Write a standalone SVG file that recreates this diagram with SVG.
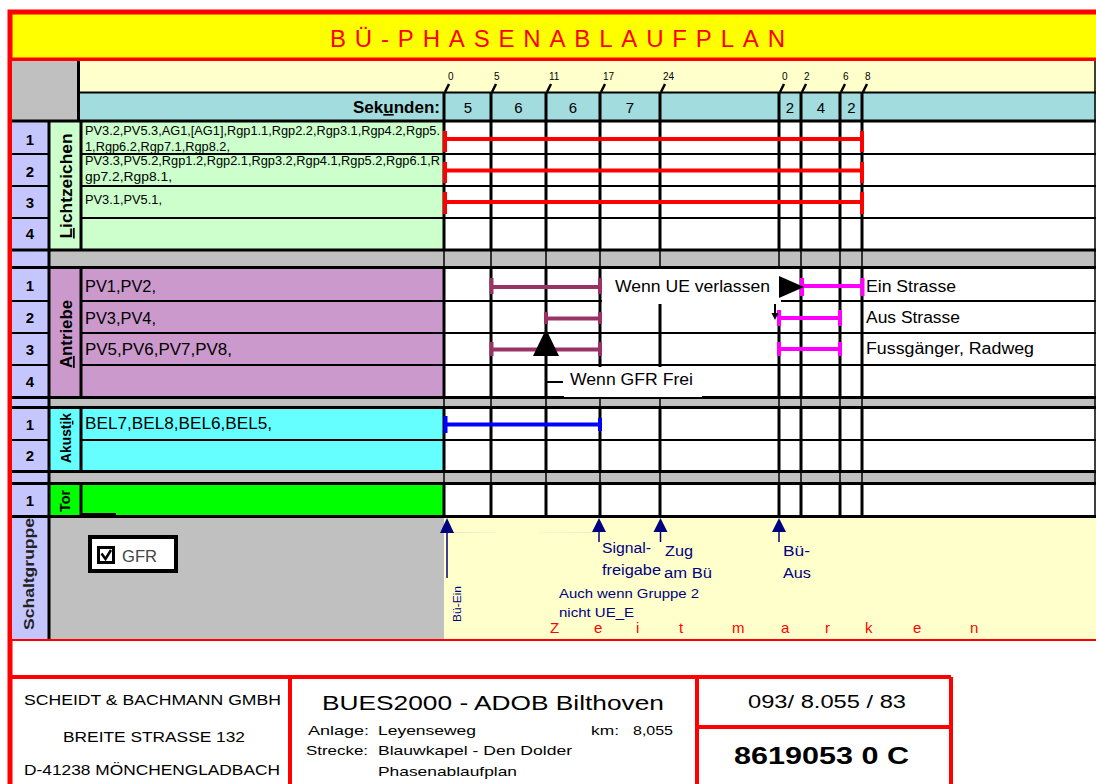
<svg xmlns="http://www.w3.org/2000/svg" width="1096" height="784" viewBox="0 0 1096 784">
<style>
text{font-family:"Liberation Sans",Arial,Helvetica,sans-serif;fill:#000}
.n{font-size:15px;font-weight:bold;text-anchor:middle}
.c{font-weight:bold;text-anchor:middle}
.s{font-size:12.5px}
.t{font-size:16px}
.k{font-size:10px}
.h{font-size:15px;text-anchor:middle}
.nv{font-size:14px;fill:#000080}
.rd{fill:#f00}
.tb{font-size:14.5px}
.u{text-decoration:underline}
.b3{stroke:#000;stroke-width:3;fill:none}
.b2{stroke:#000;stroke-width:2;fill:none}
.b1{stroke:#000;stroke-width:1.5;fill:none}
</style>
<rect width="1096" height="784" fill="#fff"/>

<g id="frame">
<rect x="12" y="14" width="1084" height="44" fill="#ff0"/>
<path d="M10,784 V12 H1096" stroke="#f00" stroke-width="5" fill="none"/>
<path d="M10,59.5 H1096" stroke="#f00" stroke-width="4"/>
<text class="rd" x="330" y="47" font-size="24" textLength="455" lengthAdjust="spacing">BÜ-PHASENABLAUFPLAN</text>
<path d="M10,639.5 H1096" stroke="#f00" stroke-width="3"/>
</g>

<g id="header">
<rect x="12" y="61" width="66" height="60" fill="#c0c0c0"/>
<rect x="79" y="61" width="1017" height="31" fill="#ffffcc"/>
<rect x="79" y="93" width="1017" height="28" fill="#a2dcdf"/>
<path class="b3" d="M78.5,61 V121"/>
<path class="b2" d="M79,92.5 H1096"/>
<path stroke="#000" stroke-width="2.5" fill="none" d="M445,92L449,84 M492,92L496,84 M547,92L551,84 M601,92L605,84 M661,92L665,84 M780,92L784,84 M802,92L806,84 M841,92L845,84 M863,92L867,84"/>
<text class="k" x="448" y="80">0</text>
<text class="k" x="494" y="80">5</text>
<text class="k" x="549" y="80">11</text>
<text class="k" x="603" y="80">17</text>
<text class="k" x="663" y="80">24</text>
<text class="k" x="782" y="80">0</text>
<text class="k" x="804" y="80">2</text>
<text class="k" x="843" y="80">6</text>
<text class="k" x="865" y="80">8</text>
<text x="353" y="113" font-size="16" font-weight="bold" textLength="87" lengthAdjust="spacingAndGlyphs">Sek<tspan class="u">u</tspan>nden:</text>
<text class="h" x="468" y="113">5</text>
<text class="h" x="518.5" y="113">6</text>
<text class="h" x="573" y="113">6</text>
<text class="h" x="630" y="113">7</text>
<text class="h" x="790" y="113">2</text>
<text class="h" x="821" y="113">4</text>
<text class="h" x="851.5" y="113">2</text>
</g>

<g id="fills">
<rect x="12" y="121" width="37" height="518" fill="#c6c6ff"/>
<rect x="49" y="121" width="395" height="129" fill="#ccffcc"/>
<rect x="49" y="250" width="1047" height="17" fill="#c0c0c0"/>
<rect x="49" y="267" width="395" height="131" fill="#cc99cc"/>
<rect x="49" y="398" width="1047" height="10" fill="#c0c0c0"/>
<rect x="49" y="407" width="395" height="65" fill="#66ffff"/>
<rect x="49" y="472" width="1047" height="12" fill="#c0c0c0"/>
<rect x="49" y="483" width="395" height="34" fill="#00ff00"/>
<rect x="49" y="517" width="395" height="122" fill="#c0c0c0"/>
<rect x="444" y="517" width="652" height="122" fill="#ffffcc"/>
</g>

<g id="grid">
<path class="b3" d="M444,92V250M444,267V398M444,407V472M444,483V517 M491,92V250M491,267V398M491,407V472M491,483V517 M546,92V250M546,267V398M546,407V472M546,483V517 M600,92V250M600,267V398M600,407V472M600,483V517 M660,92V250M660,267V398M660,407V472M660,483V517 M779,92V250M779,267V398M779,407V472M779,483V517 M801,92V250M801,267V398M801,407V472M801,483V517 M840,92V250M840,267V398M840,407V472M840,483V517 M862,92V250M862,267V398M862,407V472M862,483V517"/>
<path class="b1" d="M444,250V267M444,398V407M444,472V483 M491,250V267M491,398V407M491,472V483 M546,250V267M546,398V407M546,472V483 M600,250V267M600,398V407M600,472V483 M660,250V267M660,398V407M660,472V483 M779,250V267M779,398V407M779,472V483 M801,250V267M801,398V407M801,472V483 M840,250V267M840,398V407M840,472V483 M862,250V267M862,398V407M862,472V483 M1095,61V517"/>
<path class="b3" d="M12,121H1096 M12,250H1096 M12,267.5H1096 M12,397.5H1096 M12,407.5H1096 M12,471.5H1096 M12,483.5H1096 M12,516.5H1096"/>
<path class="b2" d="M12,154H49M81,154H1096 M12,186H49M81,186H1096 M12,218H49M81,218H1096 M12,301H49M81,301H1096 M12,333H49M81,333H1096 M12,365H49M81,365H1096 M12,440H49M81,440H1096"/>
<path class="b3" d="M49,121V639 M81,121V250M81,267V398M81,407V472M81,483V517"/>
<path class="b3" d="M82,514.5H116"/>
</g>

<g id="lichtzeichen">
<text class="n" x="30" y="145">1</text>
<text class="n" x="30" y="177">2</text>
<text class="n" x="30" y="208">3</text>
<text class="n" x="30" y="239">4</text>
<text class="c" font-size="17" transform="translate(72,186) rotate(-90)" textLength="105" lengthAdjust="spacingAndGlyphs"><tspan class="u">L</tspan>ichtzeichen</text>
<text class="s" x="85" y="135" textLength="355" lengthAdjust="spacingAndGlyphs">PV3.2,PV5.3,AG1,[AG1],Rgp1.1,Rgp2.2,Rgp3.1,Rgp4.2,Rgp5.</text>
<text class="s" x="85" y="151" textLength="145" lengthAdjust="spacingAndGlyphs">1,Rgp6.2,Rgp7.1,Rgp8.2,</text>
<text class="s" x="85" y="165" textLength="355" lengthAdjust="spacingAndGlyphs">PV3.3,PV5.2,Rgp1.2,Rgp2.1,Rgp3.2,Rgp4.1,Rgp5.2,Rgp6.1,R</text>
<text class="s" x="85" y="181" textLength="87" lengthAdjust="spacingAndGlyphs">gp7.2,Rgp8.1,</text>
<text class="s" x="85" y="204" textLength="77" lengthAdjust="spacingAndGlyphs">PV3.1,PV5.1,</text>
</g>

<g id="antriebe">
<text class="n" x="30" y="291">1</text>
<text class="n" x="30" y="323">2</text>
<text class="n" x="30" y="355">3</text>
<text class="n" x="30" y="387">4</text>
<text class="c" font-size="17" transform="translate(72,334) rotate(-90)" textLength="68" lengthAdjust="spacingAndGlyphs"><tspan class="u">A</tspan>ntriebe</text>
<text class="t" x="85" y="292" textLength="71" lengthAdjust="spacingAndGlyphs">PV1,PV2,</text>
<text class="t" x="85" y="324" textLength="71" lengthAdjust="spacingAndGlyphs">PV3,PV4,</text>
<text class="t" x="85" y="355" textLength="147" lengthAdjust="spacingAndGlyphs">PV5,PV6,PV7,PV8,</text>
<text class="t" x="866" y="292" textLength="90" lengthAdjust="spacingAndGlyphs">Ein Strasse</text>
<text class="t" x="866" y="323" textLength="94" lengthAdjust="spacingAndGlyphs">Aus Strasse</text>
<text class="t" x="866" y="354" textLength="168" lengthAdjust="spacingAndGlyphs">Fussgänger, Radweg</text>
</g>

<g id="akustik">
<text class="n" x="30" y="430">1</text>
<text class="n" x="30" y="461">2</text>
<text class="c" font-size="14" transform="translate(71,438) rotate(-90)" textLength="50" lengthAdjust="spacingAndGlyphs">Akust<tspan class="u">i</tspan>k</text>
<text class="t" x="85" y="429" textLength="187" lengthAdjust="spacingAndGlyphs">BEL7,BEL8,BEL6,BEL5,</text>
</g>

<g id="tor">
<text class="n" x="30" y="506">1</text>
<text class="c" font-size="14" transform="translate(70,501) rotate(-90)" textLength="22" lengthAdjust="spacingAndGlyphs">Tor</text>
</g>

<g id="schaltgruppe">
<text class="c" font-size="15" style="fill:#222" transform="translate(34,574) rotate(-90)" textLength="112" lengthAdjust="spacingAndGlyphs">Schaltgruppe</text>
<rect x="90" y="537" width="86" height="34" fill="#fff" stroke="#000" stroke-width="4"/>
<rect x="98.5" y="547.5" width="15" height="15" fill="#fff" stroke="#000" stroke-width="3"/>
<path d="M101.5,553.5 L105.5,559 L111,550" stroke="#000" stroke-width="2.5" fill="none"/>
<text x="122" y="562" font-size="17" style="fill:#444" textLength="35" lengthAdjust="spacingAndGlyphs">GFR</text>
<text class="nv" x="602" y="553" textLength="49" lengthAdjust="spacingAndGlyphs">Signal-</text>
<text class="nv" x="602" y="575" textLength="59" lengthAdjust="spacingAndGlyphs">freigabe</text>
<text class="nv" x="665" y="556" textLength="28" lengthAdjust="spacingAndGlyphs">Zug</text>
<text class="nv" x="664" y="578" textLength="48" lengthAdjust="spacingAndGlyphs">am Bü</text>
<text class="nv" x="783" y="556" textLength="27" lengthAdjust="spacingAndGlyphs">Bü-</text>
<text class="nv" x="783" y="578" textLength="28" lengthAdjust="spacingAndGlyphs">Aus</text>
<text class="nv" font-size="13" x="559" y="598" style="font-size:13px" textLength="140" lengthAdjust="spacingAndGlyphs">Auch wenn Gruppe 2</text>
<text class="nv" x="559" y="617" style="font-size:13px" textLength="75" lengthAdjust="spacingAndGlyphs">nicht UE_E</text>
<text class="nv" style="font-size:11px" text-anchor="middle" transform="translate(461,604) rotate(-90)" textLength="36" lengthAdjust="spacingAndGlyphs">Bü-Ein</text>
<text class="rd" font-size="15" x="550 594 636 679 732 781 825 865 913 970" y="633">Zeitmarken</text>
</g>

<g id="connectors">
<rect x="602" y="269" width="177" height="35" fill="#fff"/>
<rect x="777" y="269" width="4" height="42" fill="#fff"/>
<rect x="564" y="367" width="138" height="30" fill="#fff"/>
<text class="t" x="615" y="292" textLength="155" lengthAdjust="spacingAndGlyphs">Wenn UE verlassen</text>
<text class="t" x="570" y="385" textLength="123" lengthAdjust="spacingAndGlyphs">Wenn GFR Frei</text>
<path stroke="#f00" stroke-width="4" fill="none" d="M444,139H862 M445,131V152 M862,131V152 M444,170.5H862 M445,162V183 M862,162V183 M444,202H862 M445,192V214 M862,192V214"/>
<path stroke="#993366" stroke-width="4" fill="none" d="M491,287H600 M491.5,278V294 M600,278V294 M546,318.5H600 M546,312V324 M600,312V324 M491,349.5H600 M491.5,342V356 M600,342V356"/>
<path stroke="#f0f" stroke-width="4" fill="none" d="M801,286H862 M802,278V296 M862.5,278V296 M779,318H840 M779,310V326 M840,310V326 M779,349H840 M779,342V356 M840,342V356"/>
<path stroke="#00f" stroke-width="4" fill="none" d="M444,424.5H600 M445.5,416V433 M600,418V431"/>
<polygon points="779,276 804,287 779,298" fill="#000"/>
<path d="M775,304V315" stroke="#000" stroke-width="2"/>
<polygon points="771.5,313 778.5,313 775,320" fill="#000"/>
<polygon points="533,356 546,329 559,356" fill="#000"/>
<path d="M546,382H563" stroke="#000" stroke-width="2"/>
<path stroke="#000080" stroke-width="1.5" fill="none" d="M447,530V578 M599,530V542 M660.5,530V542 M779,530V542"/>
<polygon fill="#000080" points="440,533 447,518 454,533 592,532 599,518 606,532"/>
<polygon fill="#000080" points="653.5,532 660.5,518 667.5,532"/>
<polygon fill="#000080" points="772,532 779,518 786,532"/>
</g>

<g id="titleblock">
<path d="M10,677H951 M290,677V784 M697,677V784 M951,677V784 M697,727H951" stroke="#f00" stroke-width="4" fill="none"/>
<text class="tb" x="24" y="705" textLength="257" lengthAdjust="spacingAndGlyphs">SCHEIDT &amp; BACHMANN GMBH</text>
<text class="tb" x="63" y="742" textLength="182" lengthAdjust="spacingAndGlyphs">BREITE STRASSE 132</text>
<text class="tb" x="24" y="775" textLength="256" lengthAdjust="spacingAndGlyphs">D-41238 MÖNCHENGLADBACH</text>
<text x="322" y="710" font-size="21" textLength="342" lengthAdjust="spacingAndGlyphs">BUES2000 - ADOB Bilthoven</text>
<text x="308" y="735" font-size="13.5" textLength="61" lengthAdjust="spacingAndGlyphs">Anlage:</text>
<text x="378" y="735" font-size="13.5" textLength="98" lengthAdjust="spacingAndGlyphs">Leyenseweg</text>
<text x="591" y="735" font-size="13.5" textLength="28" lengthAdjust="spacingAndGlyphs">km:</text>
<text x="633" y="735" font-size="13.5" textLength="40" lengthAdjust="spacingAndGlyphs">8,055</text>
<text x="306" y="755" font-size="13.5" textLength="62" lengthAdjust="spacingAndGlyphs">Strecke:</text>
<text x="378" y="755" font-size="13.5" textLength="194" lengthAdjust="spacingAndGlyphs">Blauwkapel - Den Dolder</text>
<text x="378" y="776" font-size="13.5" textLength="139" lengthAdjust="spacingAndGlyphs">Phasenablaufplan</text>
<text x="748" y="708" font-size="18" textLength="158" lengthAdjust="spacingAndGlyphs">093/ 8.055 / 83</text>
<text x="734" y="764" font-size="23" font-weight="bold" textLength="175" lengthAdjust="spacingAndGlyphs">8619053 0 C</text>
</g>
</svg>
